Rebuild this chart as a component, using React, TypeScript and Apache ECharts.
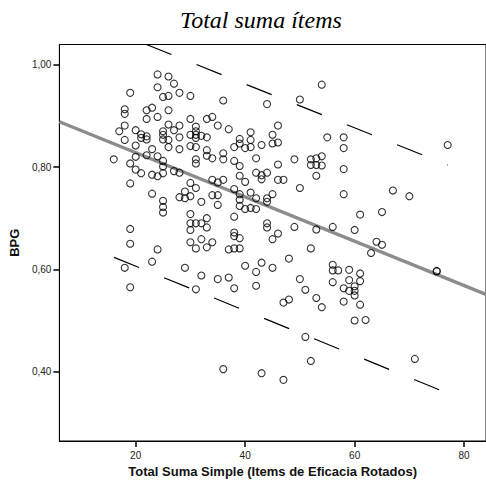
import React, { useEffect, useRef } from "react";
import * as echarts from "echarts";

// Total Suma Simple (x) , BPG (y)
const puntos: [number, number][] = [
  [16, 0.815],
  [17, 0.870],
  [18, 0.913], [18, 0.904], [18, 0.881], [18, 0.853], [18, 0.603],
  [19, 0.945], [19, 0.807], [19, 0.768], [19, 0.679], [19, 0.650], [19, 0.565],
  [20, 0.872], [20, 0.842], [20, 0.820], [20, 0.795],
  [21, 0.864], [21, 0.857], [21, 0.788],
  [22, 0.911], [22, 0.894], [22, 0.860], [22, 0.854], [22, 0.823],
  [23, 0.916], [23, 0.835], [23, 0.785], [23, 0.748], [23, 0.615],
  [24, 0.981], [24, 0.956], [24, 0.898], [24, 0.821], [24, 0.782], [24, 0.639],
  [25, 0.937], [25, 0.870], [25, 0.863], [25, 0.854], [25, 0.812], [25, 0.801], [25, 0.788], [25, 0.734], [25, 0.722], [25, 0.711],
  [26, 0.977], [26, 0.939], [26, 0.911], [26, 0.883], [26, 0.853], [26, 0.839],
  [27, 0.963], [27, 0.872], [27, 0.792],
  [28, 0.945], [28, 0.881], [28, 0.858], [28, 0.835], [28, 0.789], [28, 0.741],
  [29, 0.752], [29, 0.739], [29, 0.603],
  [30, 0.939], [30, 0.894], [30, 0.863], [30, 0.841], [30, 0.769], [30, 0.743], [30, 0.708], [30, 0.690], [30, 0.677], [30, 0.653],
  [31, 0.879], [31, 0.870], [31, 0.863], [31, 0.857], [31, 0.839], [31, 0.815], [31, 0.807], [31, 0.759], [31, 0.690], [31, 0.641], [31, 0.561],
  [32, 0.861], [32, 0.732], [32, 0.690], [32, 0.659], [32, 0.588],
  [33, 0.894], [33, 0.858], [33, 0.833], [33, 0.822], [33, 0.700], [33, 0.682], [33, 0.643],
  [34, 0.898], [34, 0.817], [34, 0.775], [34, 0.745], [34, 0.653],
  [35, 0.881], [35, 0.770], [35, 0.745], [35, 0.726], [35, 0.581],
  [36, 0.930], [36, 0.827], [36, 0.815], [36, 0.775], [36, 0.405],
  [37, 0.874], [37, 0.639], [37, 0.584],
  [38, 0.839], [38, 0.812], [38, 0.757], [38, 0.703], [38, 0.672], [38, 0.665], [38, 0.641], [38, 0.563],
  [39, 0.855], [39, 0.846], [39, 0.802], [39, 0.783], [39, 0.747], [39, 0.736], [39, 0.724], [39, 0.661], [39, 0.641],
  [40, 0.837], [40, 0.771], [40, 0.718], [40, 0.607],
  [41, 0.868], [41, 0.853], [41, 0.839], [41, 0.750], [41, 0.720],
  [42, 0.817], [42, 0.789], [42, 0.739], [42, 0.718], [42, 0.595], [42, 0.568],
  [43, 0.843], [43, 0.784], [43, 0.776], [43, 0.613], [43, 0.397],
  [44, 0.923], [44, 0.789], [44, 0.739], [44, 0.732], [44, 0.690], [44, 0.682],
  [45, 0.863], [45, 0.846], [45, 0.747], [45, 0.659], [45, 0.603],
  [46, 0.881], [46, 0.848], [46, 0.805], [46, 0.775], [46, 0.670],
  [47, 0.775], [47, 0.535], [47, 0.384],
  [48, 0.621], [48, 0.541],
  [49, 0.815], [49, 0.683],
  [50, 0.932], [50, 0.759], [50, 0.581],
  [51, 0.560], [51, 0.468],
  [52, 0.815], [52, 0.804], [52, 0.641], [52, 0.421],
  [53, 0.817], [53, 0.804], [53, 0.783], [53, 0.678], [53, 0.544],
  [54, 0.961], [54, 0.821], [54, 0.803], [54, 0.526],
  [55, 0.858],
  [56, 0.683], [56, 0.609], [56, 0.598], [56, 0.575],
  [57, 0.598],
  [58, 0.858], [58, 0.837], [58, 0.796], [58, 0.747], [58, 0.563], [58, 0.537],
  [59, 0.599], [59, 0.579], [59, 0.558],
  [60, 0.677], [60, 0.567], [60, 0.558], [60, 0.549], [60, 0.500],
  [61, 0.707], [61, 0.592], [61, 0.577], [61, 0.531],
  [62, 0.501],
  [63, 0.632],
  [64, 0.654],
  [65, 0.712], [65, 0.648],
  [67, 0.754],
  [70, 0.743],
  [71, 0.425],
  [75, 0.597], [75, 0.596],
  [77, 0.843],
];

// Fit line (total) and individual prediction interval limits
const lineaAjuste: [number, number][] = [[6.06, 0.8886], [84, 0.5512]];
const limiteSuperior: [number, number][] = [[21.95, 1.0395], [77, 0.804]];
const limiteInferior: [number, number][] = [[16.05, 0.6235], [77, 0.358]];

const xTicks = [20, 40, 60, 80];
const yTicks = [0.4, 0.6, 0.8, 1.0];

export default function App() {
  const ref = useRef<HTMLDivElement>(null);
  useEffect(() => {
    if (!ref.current) return;
    const chart = echarts.init(ref.current, null, { renderer: "svg" });
    const dash = { color: "#000", width: 1.2, type: [27, 27] as number[] };
    chart.setOption({
      animation: false,
      backgroundColor: "#fff",
      title: {
        text: "Total suma ítems",
        left: 175,
        top: 3,
        textStyle: {
          fontFamily: "Liberation Serif",
          fontStyle: "italic",
          fontWeight: "normal",
          fontSize: 24,
          color: "#000",
        },
      },
      grid: {
        left: 55,
        top: 44.5,
        right: -3.6,
        bottom: 45,
        show: true,
        borderColor: "#000",
        borderWidth: 1,
        backgroundColor: "transparent",
      },
      xAxis: {
        type: "value",
        min: 6.06,
        max: 84,
        name: "Total Suma Simple (Items de Eficacia Rotados)",
        nameLocation: "middle",
        nameGap: 18,
        nameTextStyle: { fontFamily: "Liberation Sans", fontWeight: "bold", fontSize: 13, color: "#111" },
        splitLine: { show: false },
        axisLine: { lineStyle: { color: "#000", width: 1 } },
        axisTick: { customValues: xTicks, length: 6, lineStyle: { color: "#000", width: 1.5 } },
        axisLabel: {
          customValues: xTicks,
          margin: 9,
          fontFamily: "Liberation Sans",
          fontSize: 10,
          color: "#222",
          formatter: (v: number) => String(v),
        },
      },
      yAxis: {
        type: "value",
        min: 0.2645,
        max: 1.0395,
        name: "BPG",
        nameLocation: "middle",
        nameGap: 33,
        nameTextStyle: { fontFamily: "Liberation Sans", fontWeight: "bold", fontSize: 13, color: "#111" },
        splitLine: { show: false },
        axisLine: { lineStyle: { color: "#000", width: 1 } },
        axisTick: { customValues: yTicks, length: 6, lineStyle: { color: "#000", width: 1.5 } },
        axisLabel: {
          customValues: yTicks,
          margin: 8,
          fontFamily: "Liberation Sans",
          fontSize: 10,
          color: "#222",
          formatter: (v: number) => v.toFixed(2).replace(".", ","),
        },
      },
      series: [
        {
          type: "line",
          data: lineaAjuste,
          showSymbol: false,
          lineStyle: { color: "#8c8c8c", width: 3.4 },
          z: 1,
        },
        {
          type: "line",
          data: limiteSuperior,
          showSymbol: false,
          lineStyle: dash,
          z: 2,
        },
        {
          type: "line",
          data: limiteInferior,
          showSymbol: false,
          lineStyle: dash,
          z: 2,
        },
        {
          type: "scatter",
          data: puntos,
          symbol: "circle",
          symbolSize: 7,
          itemStyle: { color: "rgba(0,0,0,0)", borderColor: "#000", borderWidth: 1.1 },
          z: 3,
        },
      ],
    });
    return () => chart.dispose();
  }, []);
  return <div ref={ref} style={{ position: "fixed", left: 0, top: 0, width: 486, height: 486 }} />;
}
